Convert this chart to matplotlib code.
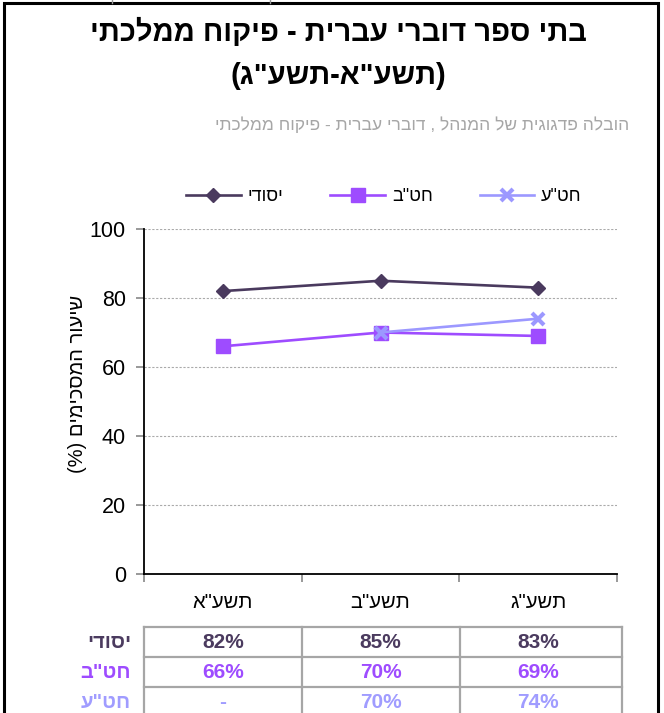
import numpy as np
import matplotlib
matplotlib.use("Agg")
import matplotlib.pyplot as plt
from matplotlib.lines import Line2D
from matplotlib.patches import Rectangle
from matplotlib.transforms import blended_transform_factory

# matplotlib has no bidi support, so Hebrew strings are flipped to visual order
def heb(s):
    swap = {"(": ")", ")": "("}
    return "".join(swap.get(c, c) for c in reversed(s))

plt.rcParams['font.family'] = ['Liberation Sans', 'DejaVu Sans']

# data
years = ['תשע"א', 'תשע"ב', 'תשע"ג']
series_names = ['יסודי', 'חט"ב', 'חט"ע']
elementary = [82, 85, 83]
middle = [66, 70, 69]
high = [np.nan, 70, 74]

title_lines = ['בתי ספר דוברי עברית - פיקוח ממלכתי', '(תשע"א-תשע"ג)']
subtitle = 'הובלה פדגוגית של המנהל , דוברי עברית - פיקוח ממלכתי'
ylabel = 'שיעור המסכימים (%)'

line_colors = ['#4a3a5e', '#9e4cff', '#9c98ff']
text_colors = ['#4b3b5f', '#9e4cff', '#a09cff']
markers = ['D', 's', 'x']

W, H = 664, 713
fig = plt.figure(figsize=(W / 100, H / 100), dpi=100)

def fx(px):
    return px / W

def fy(py):
    return 1 - py / H

ax = fig.add_axes([fx(144), fy(574), fx(617) - fx(144), fy(229) - fy(574)])

x = np.arange(len(years))
all_series = [elementary, middle, high]
for vals, name, c, m in zip(all_series, series_names, line_colors, markers):
    if m == 'x':
        ax.plot(x, vals, color=c, lw=1.9, marker=m, ms=9, mew=3, label=heb(name), zorder=4)
    elif m == 'D':
        ax.plot(x, vals, color=c, lw=1.9, marker=m, ms=7, label=heb(name), zorder=3)
    else:
        ax.plot(x, vals, color=c, lw=1.9, marker=m, ms=10, label=heb(name), zorder=3)

ax.set_xlim(-0.5, len(years) - 0.5)
ax.set_ylim(0, 100)
ax.set_yticks(np.arange(0, 101, 20))
ax.set_xticks(x)
ax.set_xticklabels([heb(y) for y in years], fontsize=14.5)
ax.set_xticks(np.arange(-0.5, len(years), 1), minor=True)
ax.tick_params(axis='x', which='major', length=0, pad=14)
ax.tick_params(axis='x', which='minor', length=6, width=1.2, color='#888888')
ax.tick_params(axis='y', length=6, width=1.2, color='#888888', labelsize=15.5, pad=7)
ax.grid(axis='y', color='#aaaaaa', ls=(0, (2, 1.5)), lw=0.8)
ax.set_axisbelow(True)
for s in ['top', 'right']:
    ax.spines[s].set_visible(False)
for s in ['left', 'bottom']:
    ax.spines[s].set_linewidth(1.3)
ax.set_ylabel(heb(ylabel), fontsize=14.5)
ax.yaxis.set_label_coords(-0.12, 0.55)

# legend: handle on the left, text on the right
handles, labels = ax.get_legend_handles_labels()
fig.legend(handles, labels, loc='center', bbox_to_anchor=(fx(384), fy(197)),
           ncol=3, frameon=False, fontsize=13, handlelength=3.0,
           handletextpad=0.4, columnspacing=2.6)

# titles
fig.text(fx(338), fy(54), heb(title_lines[0]) + '\n' + heb(title_lines[1]),
         ha='center', va='center', fontsize=21, fontweight='bold', linespacing=1.7)
fig.text(fx(629), fy(125), heb(subtitle), ha='right', va='center', fontsize=12.5,
         color='#a6a6a6')

# data table under the chart
tr = blended_transform_factory(ax.transData, fig.transFigure)
row_y = [643, 672, 703]
line_y = [627, 657, 687, 717]
grid_c = '#a6a6a6'
for ly in line_y:
    fig.add_artist(Line2D([fx(144), fx(622)], [fy(ly), fy(ly)], color=grid_c, lw=1.6))
for vx in [144, 302, 460, 622]:
    fig.add_artist(Line2D([fx(vx), fx(vx)], [fy(627), fy(720)], color=grid_c, lw=1.6))
for vals, name, c, ry in zip(all_series, series_names, text_colors, row_y):
    fig.text(fx(131), fy(ry), heb(name), ha='right', va='center', fontsize=14.5,
             fontweight='bold', color=c)
    for xi, v in zip(x, vals):
        txt = '-' if np.isnan(v) else f'{v:.0f}%'
        ax.text(xi, fy(ry), txt, transform=tr, ha='center', va='center',
                fontsize=15, fontweight='bold', color=c, clip_on=False)

# outer frame of the chart object
fig.add_artist(Rectangle((fx(4), fy(740)), fx(658) - fx(4), fy(3) - fy(740),
                         fill=False, ec='black', lw=2.2))
for vx in [112, 270]:
    fig.add_artist(Line2D([fx(vx), fx(vx)], [fy(0), fy(3)], color='#999999', lw=1))

fig.savefig('out.png', dpi=100)
